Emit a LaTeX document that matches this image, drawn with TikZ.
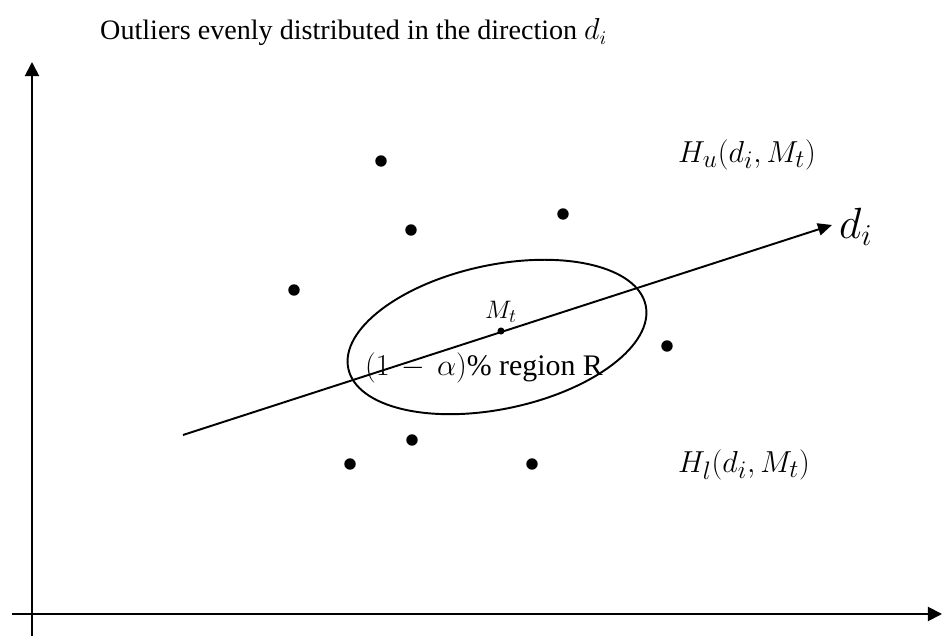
\documentclass[tikz,border=0pt]{standalone}
\usepackage{amsmath}
\usepackage{fontspec}
\setmainfont{Liberation Serif}
\usepackage{tikz}
\usetikzlibrary{arrows.meta, positioning}

\begin{document}
\begin{tikzpicture}[
    x=0.02cm, y=-0.02cm,
    axis/.style={-{Triangle[length=8pt, width=8pt]}, line width=1.1pt},
    dir/.style={-{Triangle[length=8pt, width=7pt]}, line width=1.1pt},
    outlier/.style={circle, fill=black, inner sep=0pt, minimum size=6.5pt},
    centre/.style={circle, fill=black, inner sep=0pt, minimum size=4pt},
    label/.style={font=\fontsize{19}{22}\selectfont},
]
\useasboundingbox (0,0) rectangle (948,644);

% Axes
\coordinate (xstart) at (12,614);
\coordinate (xend) at (942,614);
\coordinate (ystart) at (32,636);
\coordinate (yend) at (32,62);
\draw[axis] (xstart) -- (xend);
\draw[axis] (ystart) -- (yend);

% Title
\node[font=\fontsize{16}{19}\selectfont, anchor=west] (title) at (94,32) {Outliers evenly distributed in the direction $d_i$};

% Region R
\node[centre] (mt) at (501,331) {};
\draw[line width=1.1pt, rotate around={12:(497,337)}] (497,337) ellipse (152 and 72);
\node[font=\fontsize{15}{17}\selectfont, above=-1pt of mt] (mtlabel) {$M_t$};
\node[font=\fontsize{17}{20}\selectfont] (region) at (484,368) {$(1\,-\,\alpha)$\% region R};

% Direction d_i
\coordinate (dstart) at (183,435);
\coordinate (dend) at (832,225);
\draw[dir] (dstart) -- (dend);
\node[font=\fontsize{23}{27}\selectfont, anchor=west] (dlabel) at (833,227) {$d_i$};

% Half spaces
\node[label, anchor=west] (hu) at (672,155) {$H_u(d_i, M_t)$};
\node[label, anchor=west] (hl) at (672,465) {$H_l(d_i, M_t)$};

% Outliers
\node[outlier] (o1) at (381,161) {};
\node[outlier] (o2) at (411,230) {};
\node[outlier] (o3) at (563,214) {};
\node[outlier] (o4) at (294,290) {};
\node[outlier] (o5) at (667,346) {};
\node[outlier] (o6) at (412,440) {};
\node[outlier] (o7) at (350,464) {};
\node[outlier] (o8) at (532,464) {};

\end{tikzpicture}
\end{document}
